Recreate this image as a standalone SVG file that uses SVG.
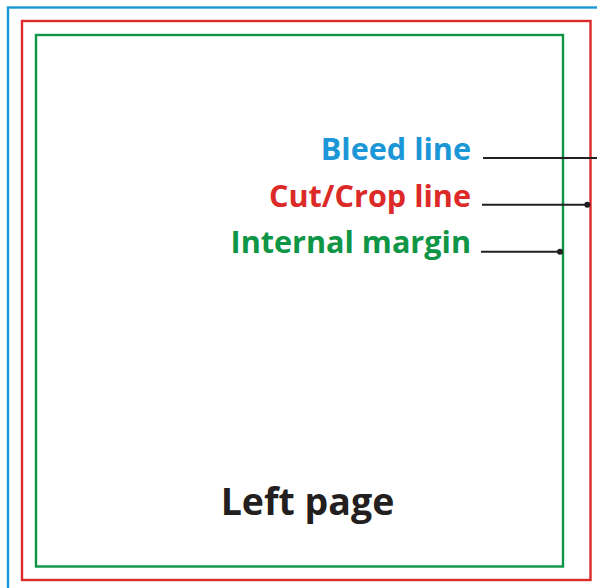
<svg xmlns="http://www.w3.org/2000/svg" width="597" height="588" viewBox="0 0 597 588">
<style>
.frame{fill:none;stroke-width:2.4}
.lbl{font-family:"Open Sans","Liberation Sans",sans-serif;font-weight:bold;font-size:30.6px;text-anchor:end}
.lead{stroke:#231f20;stroke-width:2;fill:none}
.dot{fill:#231f20}
</style>
<rect width="597" height="588" fill="#fff"/>
<g id="bleed"><rect class="frame" x="8" y="7.5" width="600" height="600" stroke="#1b96d6"/></g>
<g id="cut"><rect class="frame" x="22" y="21" width="568.5" height="559" stroke="#dc2a28"/></g>
<g id="margin"><rect class="frame" x="36" y="35" width="527" height="531.5" stroke="#0e9545"/></g>
<g id="labels">
<text class="lbl" x="471" y="160" fill="#1b96d6">Bleed line</text>
<text class="lbl" x="471" y="206.5" fill="#dc2a28">Cut/Crop line</text>
<text class="lbl" x="471" y="252.5" fill="#0e9545">Internal margin</text>
</g>
<g id="connectors">
<line class="lead" x1="483" y1="158" x2="597" y2="158"/>
<line class="lead" x1="482" y1="204.7" x2="587" y2="204.7"/>
<circle class="dot" cx="587.3" cy="204.7" r="3"/>
<line class="lead" x1="481" y1="251.7" x2="560" y2="251.7"/>
<circle class="dot" cx="560" cy="251.7" r="3"/>
</g>
<g id="page"><text x="307.5" y="514.5" font-family="'Open Sans','Liberation Sans',sans-serif" font-weight="bold" font-size="37.5" fill="#231f20" text-anchor="middle">Left page</text></g>
</svg>
